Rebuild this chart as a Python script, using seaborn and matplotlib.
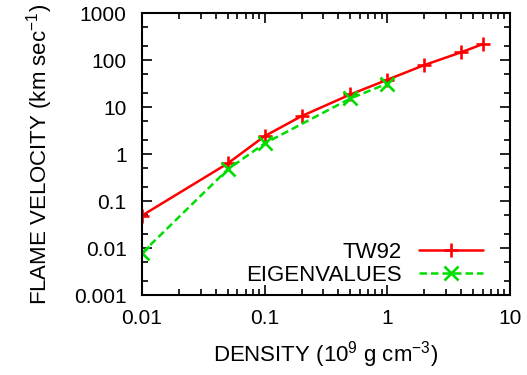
import matplotlib
matplotlib.use("Agg")
import matplotlib.pyplot as plt
import matplotlib.ticker as mticker
import pandas as pd
import seaborn as sns

tw92_density = [0.01, 0.05, 0.1, 0.2, 0.5, 1, 2, 4, 6]
tw92_velocity = [0.049, 0.63, 2.4, 6.4, 18.5, 38, 78, 146, 218]

eig_density = [0.01, 0.05, 0.1, 0.5, 1]
eig_velocity = [0.0078, 0.47, 1.68, 15.2, 31.5]

df = pd.concat([
    pd.DataFrame({'density': tw92_density, 'velocity': tw92_velocity, 'series': 'TW92'}),
    pd.DataFrame({'density': eig_density, 'velocity': eig_velocity, 'series': 'EIGENVALUES'}),
])

sns.set_style('ticks')
plt.rcParams['font.family'] = ['Liberation Sans', 'DejaVu Sans']
plt.rcParams['mathtext.fontset'] = 'custom'
plt.rcParams['mathtext.rm'] = 'Liberation Sans'
plt.rcParams['mathtext.it'] = 'Liberation Sans'
plt.rcParams['text.color'] = 'black'
plt.rcParams['axes.labelcolor'] = 'black'
plt.rcParams['xtick.color'] = 'black'
plt.rcParams['ytick.color'] = 'black'

fig = plt.figure(figsize=(5.27, 3.75), dpi=100)
ax = fig.add_axes([0.2694, 0.2133, 0.6983, 0.752])

sns.lineplot(data=df, x='density', y='velocity', hue='series', style='series',
             palette={'TW92': '#ff0000', 'EIGENVALUES': '#00dd00'},
             dashes={'TW92': '', 'EIGENVALUES': (3, 1.6)},
             markers={'TW92': '+', 'EIGENVALUES': 'x'},
             markersize=10, markeredgewidth=1.9, linewidth=1.8,
             sort=False, ax=ax)

for ln in ax.get_lines():
    ln.set_markeredgecolor(ln.get_color())

ax.set_xscale('log')
ax.set_yscale('log')
ax.set_xlim(0.01, 10)
ax.set_ylim(0.001, 1000)
ax.xaxis.set_major_formatter(mticker.FuncFormatter(lambda v, p: f'{v:g}'))
ax.yaxis.set_major_formatter(mticker.FuncFormatter(lambda v, p: f'{v:g}'))
ax.yaxis.set_minor_locator(mticker.LogLocator(base=10, subs=[2, 5]))
ax.yaxis.set_minor_formatter(mticker.NullFormatter())
ax.xaxis.set_minor_formatter(mticker.NullFormatter())
ax.tick_params(which='both', direction='in', top=True, right=True, labelsize=15, width=1.2, color='black')
ax.tick_params(which='major', length=7)
ax.tick_params(axis='x', which='major', pad=10)
ax.tick_params(axis='y', which='major', pad=11)
ax.tick_params(which='minor', length=4)
for s in ax.spines.values():
    s.set_linewidth(1.5)
    s.set_color('black')

ax.set_xlabel('DENSITY (10$^{9}$ g cm$^{-3}$)', fontsize=16, labelpad=8)
ax.set_ylabel('FLAME VELOCITY (km sec$^{-1}$)', fontsize=16, labelpad=14)

leg = ax.legend(loc='lower right', frameon=False, markerfirst=False, fontsize=16,
                handlelength=2.85, borderaxespad=0.0, labelspacing=0.1,
                bbox_to_anchor=(0.95, 0.0))
for h in leg.legend_handles:
    h.set_markeredgecolor(h.get_color())
for t in leg.get_texts():
    t.set_ha('right')

fig.savefig('out.png', dpi=100)
